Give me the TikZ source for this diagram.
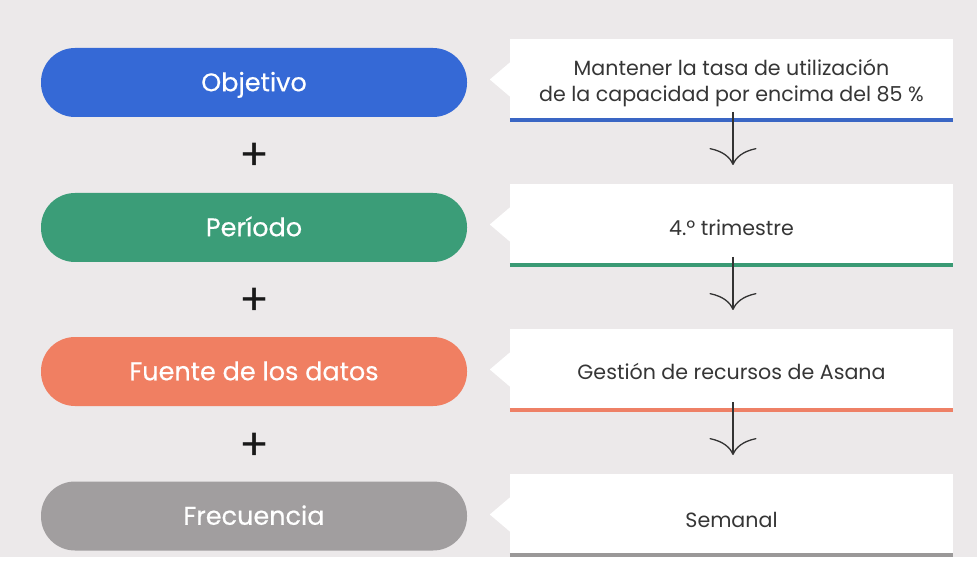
\documentclass[tikz,border=0pt]{standalone}
\usepackage{fontspec}
\setmainfont{Poppins}
\newfontfamily\pillfont[FakeBold=0.5]{Poppins}
\usetikzlibrary{arrows.meta}
\definecolor{bg}{HTML}{ECE9EA}
\definecolor{cblue}{HTML}{3569D6}
\definecolor{cgreen}{HTML}{3B9D78}
\definecolor{ccoral}{HTML}{F07F62}
\definecolor{cgrey}{HTML}{A19E9F}
\definecolor{lblue}{HTML}{3A66C4}
\definecolor{lgreen}{HTML}{3A9A74}
\definecolor{lcoral}{HTML}{EE8066}
\definecolor{lgrey}{HTML}{9A9898}
\definecolor{txt}{HTML}{363636}
\tikzset{
  pill/.style={rectangle, rounded corners=34pt, minimum width=426pt, minimum height=69pt,
    inner sep=0pt, text=white, text height=17.5pt, text depth=0pt,
    font=\pillfont\fontsize{25.5}{30}\selectfont},
  infobox/.style={rectangle, fill=white, minimum width=443pt, minimum height=81pt,
    inner sep=0pt},
  infotext/.style={inner sep=0pt, text=txt, align=center, font=\fontsize{20.6}{26}\selectfont},
  plussign/.style={inner sep=0pt, font=\fontsize{44}{44}\selectfont, text=black!90},
  flowarrow/.style={line width=1.3pt, draw=black!80,
    -{Computer Modern Rightarrow[length=17pt,width=47pt,line width=1.3pt]}},
}
\begin{document}
\begin{tikzpicture}[x=1pt,y=-1pt]
\useasboundingbox (0,0) rectangle (977,569);
\fill[bg] (0,0) rectangle (977,569);

% pills
\node[pill, fill=cblue]  (obj) at (254,82.5)  {Objetivo};
\node[pill, fill=cgreen] (per) at (254,227.5) {Período};
\node[pill, fill=ccoral] (fue) at (254,371.5) {Fuente de los datos};
\node[pill, fill=cgrey]  (fre) at (254,516)   {Frecuencia};

% plus signs
\node[plussign] (p1) at (254.5,157) {+};
\node[plussign] (p2) at (254.5,302) {+};
\node[plussign] (p3) at (254.5,447) {+};

% info boxes
\node[infobox] (b1) at (731.5,79.5)  {};
\node[infobox] (b2) at (731.5,224.5) {};
\node[infobox] (b3) at (731.5,369.5) {};
\node[infobox] (b4) at (731.5,514.5) {};

\foreach \b in {b1,b2,b3,b4}{
  \fill[white] ([yshift=17pt]\b.west) -- ([xshift=-20pt]\b.west) -- ([yshift=-17pt]\b.west) -- cycle;
}
\draw[line width=4pt, lblue]  (b1.south west) -- (b1.south east);
\draw[line width=4pt, lgreen] (b2.south west) -- (b2.south east);
\draw[line width=4pt, lcoral] (b3.south west) -- (b3.south east);
\draw[line width=4pt, lgrey]  (b4.south west) -- (b4.south east);

% texts
\node[infotext] (t1) at ([yshift=-4pt]b1.center) {Mantener la tasa de utilización\\de la capacidad por encima del 85 \%};
\node[infotext] (t2) at ([yshift=-3pt]b2.center) {4.º trimestre};
\node[infotext] (t3) at ([yshift=-2pt]b3.center) {Gestión de recursos de Asana};
\node[infotext] (t4) at ([yshift=-5pt]b4.center) {Semanal};

% arrows
\coordinate (a1s) at (733,112); \coordinate (a1e) at (733,165);
\coordinate (a2s) at (733,257); \coordinate (a2e) at (733,310);
\coordinate (a3s) at (733,402); \coordinate (a3e) at (733,455);
\draw[flowarrow] (a1s) -- (a1e);
\draw[flowarrow] (a2s) -- (a2e);
\draw[flowarrow] (a3s) -- (a3e);

% bottom white strip
\fill[white] (0,557) rectangle (977,569);
\end{tikzpicture}
\end{document}
